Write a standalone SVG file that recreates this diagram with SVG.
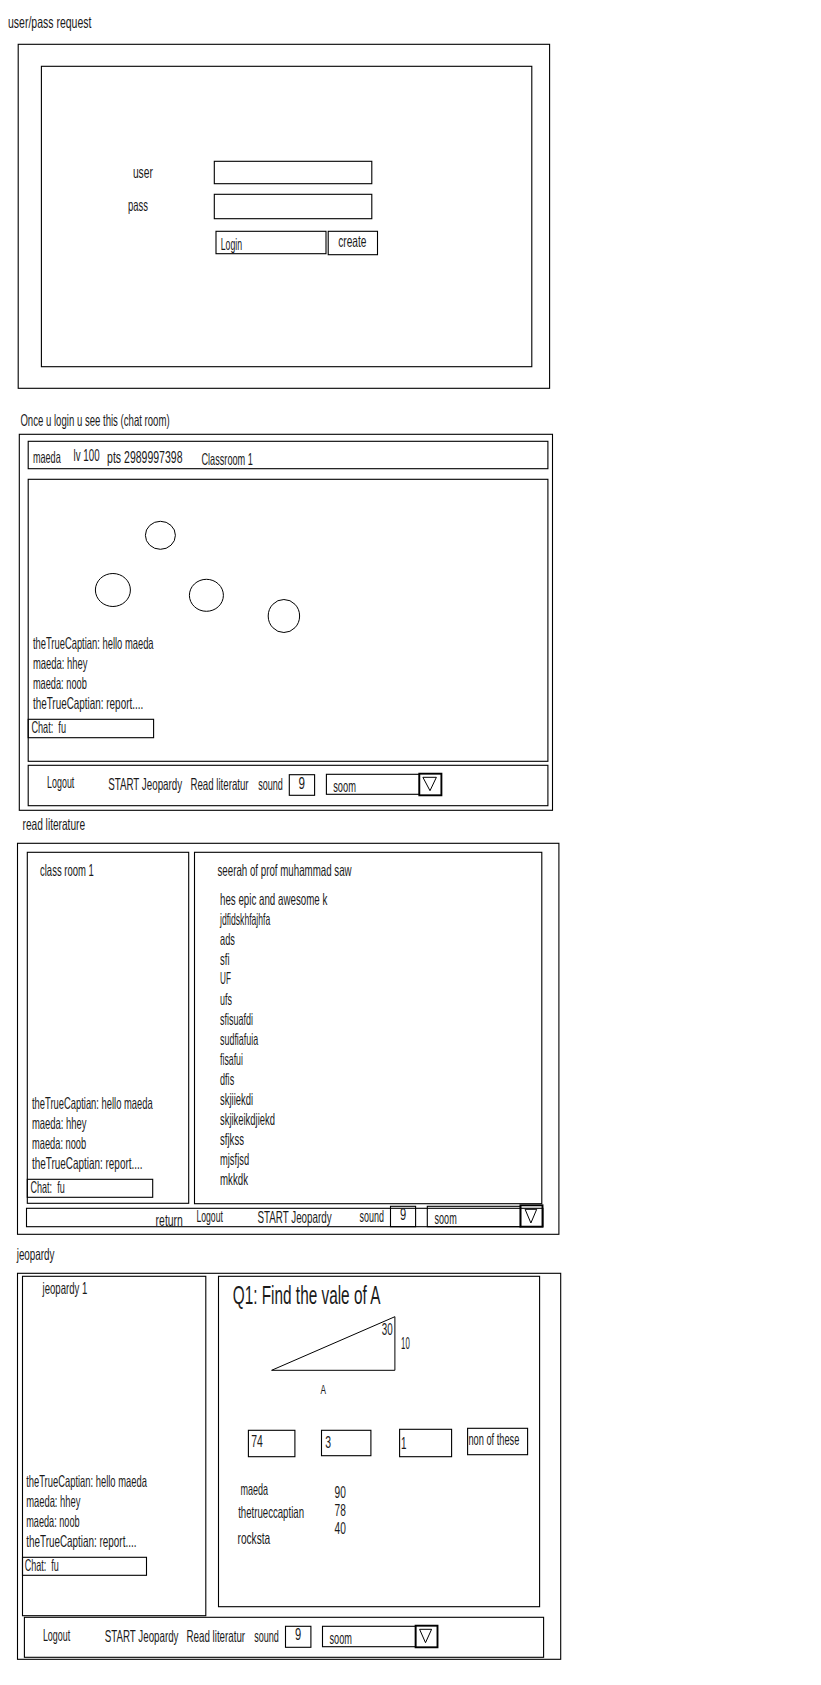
<svg xmlns="http://www.w3.org/2000/svg" width="821" height="1685" viewBox="0 0 821 1685">
<style>
rect,ellipse,polygon{fill:none;stroke:#000;stroke-width:1.1}
ellipse,polygon{stroke-width:1}
.k{stroke-width:1.9}
text{font-family:"Liberation Sans",Arial,sans-serif;font-size:16.5px;fill:#1a1a1a}
.b{font-size:25px}
.s{font-size:13px}
</style>
<rect x="0" y="0" width="821" height="1685" style="fill:#fff;stroke:none"/>
<g id="connectors"></g>
<g id="screen-login">
<text x="8" y="27.7" textLength="83.4" lengthAdjust="spacingAndGlyphs">user/pass request</text>
<rect x="18.2" y="44.3" width="531.4" height="344"/>
<rect x="41.4" y="66.3" width="490.4" height="300.4"/>
<rect x="214.3" y="161.3" width="157.5" height="22.4"/>
<rect x="214.3" y="194.3" width="157.5" height="24.4"/>
<rect x="216" y="231.3" width="110" height="22.4"/>
<rect x="328.2" y="231.3" width="49.3" height="23.4"/>
<text x="132.9" y="177.7" textLength="20" lengthAdjust="spacingAndGlyphs">user</text>
<text x="127.9" y="211" textLength="20" lengthAdjust="spacingAndGlyphs">pass</text>
<text x="220.7" y="250" textLength="21.3" lengthAdjust="spacingAndGlyphs">Login</text>
<text x="338.2" y="247" textLength="28.2" lengthAdjust="spacingAndGlyphs">create</text>
</g>
<g id="screen-chat">
<text x="20.4" y="426" textLength="149.2" lengthAdjust="spacingAndGlyphs">Once u login u see this (chat room)</text>
<rect x="19.3" y="434.3" width="533.2" height="376"/>
<rect x="28.2" y="441.3" width="519.7" height="27.4"/>
<rect x="28.2" y="479.3" width="519.7" height="282"/>
<rect x="28.2" y="765.3" width="519.7" height="40.4"/>
<text x="32.9" y="462.7" textLength="27.8" lengthAdjust="spacingAndGlyphs">maeda</text>
<text x="73.6" y="460.7" textLength="26" lengthAdjust="spacingAndGlyphs">lv 100</text>
<text x="107.1" y="462.7" textLength="75.4" lengthAdjust="spacingAndGlyphs">pts 2989997398</text>
<text x="201.4" y="465" textLength="51.5" lengthAdjust="spacingAndGlyphs">Classroom 1</text>
<ellipse cx="160.4" cy="535.3" rx="15" ry="14"/>
<ellipse cx="112.9" cy="590" rx="17.5" ry="16.5"/>
<ellipse cx="206.4" cy="595.3" rx="17" ry="16"/>
<ellipse cx="283.9" cy="616" rx="15.7" ry="16.5"/>
<text x="32.9" y="648.7" textLength="120.7" lengthAdjust="spacingAndGlyphs">theTrueCaptian: hello maeda</text>
<text x="32.9" y="668.7" textLength="54.6" lengthAdjust="spacingAndGlyphs">maeda: hhey</text>
<text x="32.9" y="688.7" textLength="53.9" lengthAdjust="spacingAndGlyphs">maeda: noob</text>
<text x="32.9" y="708.7" textLength="110.3" lengthAdjust="spacingAndGlyphs">theTrueCaptian: report....</text>
<rect x="28.2" y="719.3" width="125.4" height="18.4"/>
<text x="31.4" y="732.7" textLength="34.6" lengthAdjust="spacingAndGlyphs" xml:space="preserve">Chat:  fu</text>
<text x="47.1" y="788.3" textLength="27.2" lengthAdjust="spacingAndGlyphs">Logout</text>
<text x="108.2" y="790" textLength="73.9" lengthAdjust="spacingAndGlyphs">START Jeopardy</text>
<text x="190.4" y="790.3" textLength="58.2" lengthAdjust="spacingAndGlyphs">Read literatur</text>
<text x="258.2" y="790" textLength="24.7" lengthAdjust="spacingAndGlyphs">sound</text>
<rect x="289.3" y="774.7" width="25.3" height="20.6"/>
<text x="298.5" y="788.7" textLength="6.5" lengthAdjust="spacingAndGlyphs">9</text>
<rect x="326.4" y="774.3" width="93" height="20"/>
<text x="333.2" y="791.7" textLength="22.8" lengthAdjust="spacingAndGlyphs">soom</text>
<rect class="k" x="419.3" y="773.7" width="22.1" height="21.6"/>
<polygon points="422.9,777.3 436.4,777.3 430,790.7"/>
</g>
<g id="screen-literature">
<text x="22.5" y="830" textLength="62.6" lengthAdjust="spacingAndGlyphs">read literature</text>
<rect x="17.5" y="843.3" width="541.4" height="391"/>
<rect x="27.3" y="852.3" width="161.4" height="351"/>
<rect x="194.5" y="852.3" width="347.3" height="351.4"/>
<rect x="26.5" y="1208.3" width="516.4" height="18.4"/>
<text x="40" y="876" textLength="53.8" lengthAdjust="spacingAndGlyphs">class room 1</text>
<text x="217.5" y="876" textLength="134.1" lengthAdjust="spacingAndGlyphs">seerah of prof muhammad saw</text>
<text x="220" y="905" textLength="107.3" lengthAdjust="spacingAndGlyphs">hes epic and awesome k</text>
<text x="220" y="925" textLength="50.2" lengthAdjust="spacingAndGlyphs">jdfidskhfajhfa</text>
<text x="220" y="945" textLength="14.9" lengthAdjust="spacingAndGlyphs">ads</text>
<text x="220" y="965" textLength="9.5" lengthAdjust="spacingAndGlyphs">sfi</text>
<text x="220" y="984.3" textLength="10.9" lengthAdjust="spacingAndGlyphs">UF</text>
<text x="220" y="1005" textLength="12" lengthAdjust="spacingAndGlyphs">ufs</text>
<text x="220" y="1025" textLength="33.1" lengthAdjust="spacingAndGlyphs">sfisuafdi</text>
<text x="220" y="1045" textLength="38.2" lengthAdjust="spacingAndGlyphs">sudfiafuia</text>
<text x="220" y="1065" textLength="22.9" lengthAdjust="spacingAndGlyphs">fisafui</text>
<text x="220" y="1085" textLength="14.2" lengthAdjust="spacingAndGlyphs">dfis</text>
<text x="220" y="1105" textLength="33.1" lengthAdjust="spacingAndGlyphs">skjiiekdi</text>
<text x="220" y="1125" textLength="54.9" lengthAdjust="spacingAndGlyphs">skjikeikdjiekd</text>
<text x="220" y="1145" textLength="24" lengthAdjust="spacingAndGlyphs">sfjkss</text>
<text x="220" y="1165" textLength="29.1" lengthAdjust="spacingAndGlyphs">mjsfjsd</text>
<text x="220" y="1185" textLength="28" lengthAdjust="spacingAndGlyphs">mkkdk</text>
<text x="32" y="1109" textLength="120.7" lengthAdjust="spacingAndGlyphs">theTrueCaptian: hello maeda</text>
<text x="32" y="1129" textLength="54.5" lengthAdjust="spacingAndGlyphs">maeda: hhey</text>
<text x="32" y="1149" textLength="54.2" lengthAdjust="spacingAndGlyphs">maeda: noob</text>
<text x="32" y="1169" textLength="110.5" lengthAdjust="spacingAndGlyphs">theTrueCaptian: report....</text>
<rect x="27.3" y="1179.3" width="125.4" height="18"/>
<text x="30.5" y="1192.7" textLength="34.2" lengthAdjust="spacingAndGlyphs" xml:space="preserve">Chat:  fu</text>
<text x="155.6" y="1226" textLength="27.3" lengthAdjust="spacingAndGlyphs">return</text>
<text x="196.4" y="1222.3" textLength="26.5" lengthAdjust="spacingAndGlyphs">Logout</text>
<text x="257.5" y="1223.3" textLength="74.1" lengthAdjust="spacingAndGlyphs">START Jeopardy</text>
<text x="359.6" y="1222.3" textLength="24.4" lengthAdjust="spacingAndGlyphs">sound</text>
<rect x="390.5" y="1206.3" width="25.1" height="20.4"/>
<text x="400" y="1220.3" textLength="6.2" lengthAdjust="spacingAndGlyphs">9</text>
<rect x="427.3" y="1206.3" width="93.4" height="20.4"/>
<text x="434.5" y="1223.7" textLength="22.2" lengthAdjust="spacingAndGlyphs">soom</text>
<rect class="k" x="520.4" y="1205.3" width="22.1" height="21.4"/>
<polygon points="525.1,1209.3 536.7,1209.3 530.9,1223"/>
</g>
<g id="screen-jeopardy">
<text x="16.7" y="1260" textLength="37.8" lengthAdjust="spacingAndGlyphs">jeopardy</text>
<rect x="17.5" y="1273.3" width="543.2" height="386"/>
<rect x="22.5" y="1276.3" width="183.3" height="339.4"/>
<rect x="218.5" y="1276.3" width="321.1" height="330.4"/>
<rect x="24.4" y="1617.3" width="519.2" height="40"/>
<text x="42.5" y="1294" textLength="44.8" lengthAdjust="spacingAndGlyphs">jeopardy 1</text>
<text class="b" x="232.7" y="1304.3" textLength="147.7" lengthAdjust="spacingAndGlyphs">Q1: Find the vale of A</text>
<polygon points="271.6,1370.3 394.9,1316.7 394.9,1370.3"/>
<text x="381.8" y="1335" textLength="10.9" lengthAdjust="spacingAndGlyphs">30</text>
<text x="401.1" y="1349" textLength="8.7" lengthAdjust="spacingAndGlyphs">10</text>
<text class="s" x="320.5" y="1394" textLength="5.5" lengthAdjust="spacingAndGlyphs">A</text>
<rect x="248.4" y="1430.3" width="46.5" height="26.4"/>
<rect x="321.5" y="1430.3" width="49.4" height="25.4"/>
<rect x="399.6" y="1429.3" width="52" height="27.4"/>
<rect x="467.6" y="1428.3" width="60" height="26.4"/>
<text x="251.3" y="1447" textLength="11.6" lengthAdjust="spacingAndGlyphs">74</text>
<text x="325.2" y="1448.3" textLength="5.8" lengthAdjust="spacingAndGlyphs">3</text>
<text x="401" y="1448.7" textLength="5.5" lengthAdjust="spacingAndGlyphs">1</text>
<text x="468.4" y="1445" textLength="50.9" lengthAdjust="spacingAndGlyphs">non of these</text>
<text x="240.4" y="1495" textLength="27.6" lengthAdjust="spacingAndGlyphs">maeda</text>
<text x="238.2" y="1518.3" textLength="65.8" lengthAdjust="spacingAndGlyphs">thetrueccaptian</text>
<text x="237.5" y="1543.7" textLength="32.7" lengthAdjust="spacingAndGlyphs">rocksta</text>
<text x="334.5" y="1498" textLength="11.3" lengthAdjust="spacingAndGlyphs">90</text>
<text x="334.5" y="1516" textLength="11.3" lengthAdjust="spacingAndGlyphs">78</text>
<text x="334.5" y="1534" textLength="11.3" lengthAdjust="spacingAndGlyphs">40</text>
<text x="26.2" y="1486.7" textLength="120.7" lengthAdjust="spacingAndGlyphs">theTrueCaptian: hello maeda</text>
<text x="26.2" y="1506.7" textLength="54.2" lengthAdjust="spacingAndGlyphs">maeda: hhey</text>
<text x="26.2" y="1526.7" textLength="53.4" lengthAdjust="spacingAndGlyphs">maeda: noob</text>
<text x="26.2" y="1546.7" textLength="110.2" lengthAdjust="spacingAndGlyphs">theTrueCaptian: report....</text>
<rect x="22.5" y="1557.3" width="124" height="18"/>
<text x="24.7" y="1570.7" textLength="34.2" lengthAdjust="spacingAndGlyphs" xml:space="preserve">Chat:  fu</text>
<text x="42.9" y="1640.7" textLength="27.3" lengthAdjust="spacingAndGlyphs">Logout</text>
<text x="104.7" y="1641.7" textLength="73.8" lengthAdjust="spacingAndGlyphs">START Jeopardy</text>
<text x="186.5" y="1642.3" textLength="58.6" lengthAdjust="spacingAndGlyphs">Read literatur</text>
<text x="254.2" y="1641.7" textLength="24.7" lengthAdjust="spacingAndGlyphs">sound</text>
<rect x="285.5" y="1626.3" width="25.4" height="21"/>
<text x="295" y="1640.3" textLength="6.2" lengthAdjust="spacingAndGlyphs">9</text>
<rect x="322.5" y="1626.3" width="93.1" height="20.4"/>
<text x="329.5" y="1644" textLength="22.5" lengthAdjust="spacingAndGlyphs">soom</text>
<rect class="k" x="415.6" y="1625.7" width="21.9" height="21.6"/>
<polygon points="419.6,1629.3 431.6,1629.3 425.5,1642.7"/>
</g>
</svg>
